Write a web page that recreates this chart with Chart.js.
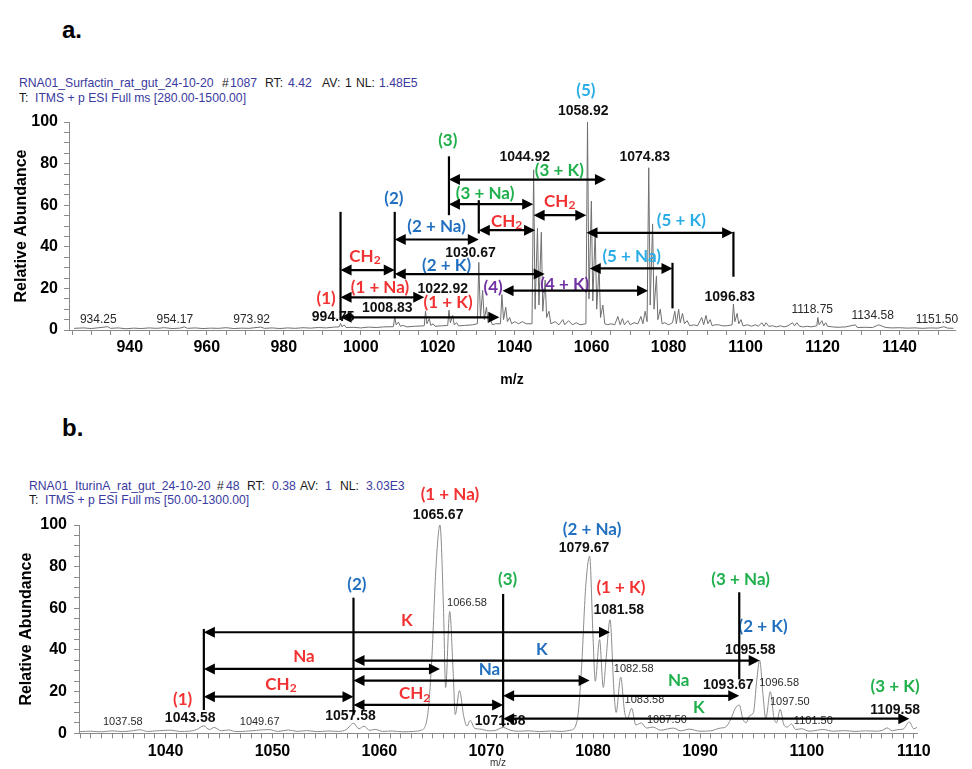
<!DOCTYPE html>
<html>
<head>
<meta charset="utf-8">
<script src="https://cdn.jsdelivr.net/npm/chart.js@4.4.1/dist/chart.umd.min.js"></script>
<style>
body{margin:0;background:#fff;width:972px;height:769px;position:relative;overflow:hidden;font-family:'Liberation Sans',Arial,sans-serif}
canvas{position:absolute;left:0}
.panel{position:absolute;font:bold 24px 'Liberation Sans',Arial,sans-serif;line-height:28px}
.hdr{position:absolute;font-size:12.2px;line-height:14px;white-space:pre;color:#1a1a1a}
.hdr.v{color:#3a3aa0}
</style>
</head>
<body>
<div class="panel" style="left:62px;top:16px">a.</div>
<div class="panel" style="left:62px;top:414px">b.</div>
<div id="headers"></div>
<canvas id="chartA" width="972" height="392" style="top:0"></canvas>
<canvas id="chartB" width="972" height="377" style="top:392px"></canvas>
<script>
// ---- scan headers: [text, left, center y, value?] ----
const headerPieces = [
  ['RNA01_Surfactin_rat_gut_24-10-20', 19, 83, true], ['#', 222, 83, false], ['1087', 230, 83, true],
  ['RT:', 265, 83, false], ['4.42', 288, 83, true], ['AV:', 322, 83, false], ['1', 345, 83, false],
  ['NL:', 356, 83, false], ['1.48E5', 379, 83, true],
  ['T:', 19, 98, false], ['ITMS + p ESI Full ms [280.00-1500.00]', 35, 98, true],
  ['RNA01_IturinA_rat_gut_24-10-20', 29, 485.5, true], ['#', 217, 485.5, false], ['48', 226, 485.5, true],
  ['RT:', 247, 485.5, false], ['0.38', 272, 485.5, true], ['AV:', 300, 485.5, false], ['1', 325, 485.5, true],
  ['NL:', 340, 485.5, false], ['3.03E3', 366, 485.5, true],
  ['T:', 29, 500, false], ['ITMS + p ESI Full ms [50.00-1300.00]', 45, 500, true]
];

// ---- panel a : surfactin spectrum (m/z, relative abundance) ----
const topMz = [925.5, 928, 930, 932, 934.25, 935, 937, 939, 941, 943, 945, 947, 949, 951, 953, 954.17, 955, 957, 959, 961, 963, 965, 967, 969, 971, 973.92, 975, 977, 979, 981, 983, 985, 987, 989, 991, 993, 994.4, 994.75, 995.1, 995.75, 996.2, 998, 1000, 1002, 1004, 1006, 1008.5, 1008.83, 1009.2, 1009.8, 1010.3, 1011, 1012, 1014, 1016.5, 1016.83, 1017.2, 1017.8, 1018.2, 1018.8, 1019.3, 1021, 1022.6, 1022.92, 1023.3, 1023.9, 1024.3, 1024.9, 1025.4, 1027, 1029, 1030.3, 1030.67, 1031.1, 1031.67, 1032.1, 1032.67, 1033.1, 1033.7, 1034.2, 1035, 1036.3, 1036.67, 1037.1, 1037.67, 1038.1, 1038.7, 1039.2, 1040, 1041, 1042, 1043, 1044.5, 1044.92, 1045.3, 1045.92, 1046.3, 1046.92, 1047.3, 1047.92, 1048.3, 1048.9, 1049.4, 1050.5, 1051.5, 1052.5, 1053, 1054, 1055, 1056, 1057, 1058.5, 1058.92, 1059.3, 1059.92, 1060.3, 1060.92, 1061.3, 1061.92, 1062.3, 1062.9, 1063.4, 1064.2, 1065, 1066, 1066.8, 1067.4, 1068, 1068.5, 1069.4, 1070, 1071, 1072, 1072.8, 1073.3, 1073.9, 1074.4, 1074.83, 1075.2, 1075.83, 1076.2, 1076.83, 1077.2, 1077.83, 1078.3, 1079, 1080, 1081, 1081.6, 1082, 1082.6, 1083, 1083.6, 1084.1, 1084.8, 1085.5, 1086.5, 1087.5, 1088.6, 1089.1, 1089.7, 1090.2, 1090.8, 1091.3, 1092, 1093, 1094, 1095, 1096.5, 1096.83, 1097.2, 1097.8, 1098.2, 1098.8, 1099.3, 1100.5, 1101.5, 1102.5, 1103.3, 1104.2, 1104.8, 1105.3, 1106, 1107, 1108, 1109, 1110, 1111, 1112.2, 1112.7, 1113.3, 1114, 1115, 1116, 1117, 1118.5, 1118.75, 1119.1, 1119.8, 1120.3, 1120.8, 1121.3, 1122.5, 1124, 1126, 1128.5, 1129, 1131, 1133, 1134.58, 1135.5, 1136.5, 1138, 1140, 1142, 1144, 1146, 1148, 1150, 1151.5, 1152.5, 1154];
const topAb = [0.8, 1.0, 0.7, 1.1, 1.6, 0.8, 1.0, 0.6, 0.9, 0.7, 1.0, 0.8, 1.1, 0.7, 0.9, 1.5, 0.8, 1.0, 0.7, 0.9, 0.8, 1.1, 0.7, 0.9, 0.8, 1.4, 0.8, 1.0, 0.7, 1.0, 0.8, 1.1, 0.9, 1.2, 1.0, 1.4, 1.5, 3.2, 1.6, 2.4, 1.2, 1.3, 1.0, 1.4, 1.2, 1.5, 1.6, 6.5, 2.5, 3.8, 1.8, 2.2, 1.5, 1.8, 2.0, 9.0, 3.0, 5.5, 2.2, 3.0, 1.8, 2.0, 2.2, 9.5, 3.5, 7.0, 2.5, 3.5, 2.0, 2.2, 2.5, 3.0, 32.5, 6.0, 19.0, 5.0, 11.0, 3.5, 5.0, 2.5, 3.0, 3.0, 17.0, 5.0, 11.0, 4.0, 6.0, 3.0, 4.0, 3.0, 4.0, 3.0, 3.0, 77.0, 10.0, 49.0, 12.0, 47.0, 9.0, 24.0, 6.0, 9.0, 3.0, 4.0, 2.5, 5.0, 2.5, 4.5, 2.5, 3.5, 2.5, 3.0, 100, 15.0, 62.0, 14.0, 48.0, 10.0, 30.0, 6.0, 12.0, 3.0, 2.5, 3.0, 2.5, 6.5, 2.5, 5.5, 2.5, 4.5, 2.5, 3.5, 3.0, 6.5, 3.0, 9.0, 4.0, 78.0, 12.0, 51.0, 10.0, 26.0, 5.0, 10.0, 3.0, 3.5, 2.5, 3.5, 9.0, 3.0, 10.0, 3.5, 8.0, 3.0, 4.5, 2.0, 2.5, 2.0, 6.0, 2.5, 7.0, 3.0, 5.0, 2.0, 2.5, 2.5, 2.0, 2.0, 2.5, 12.5, 4.0, 8.0, 3.0, 5.0, 2.0, 2.5, 1.8, 2.5, 1.8, 3.5, 1.8, 3.5, 1.8, 2.0, 1.5, 2.0, 1.5, 2.0, 3.5, 2.0, 3.5, 1.8, 1.5, 1.8, 1.5, 2.0, 6.0, 2.5, 4.5, 2.0, 3.5, 1.8, 1.5, 1.3, 1.5, 2.5, 1.2, 1.3, 1.2, 2.5, 1.8, 1.2, 1.0, 1.1, 0.9, 1.0, 0.8, 1.0, 0.9, 1.6, 0.9, 0.8];
const topXLabels = [940, 960, 980, 1000, 1020, 1040, 1060, 1080, 1100, 1120, 1140];

// vertical marker lines: [m/z, top, bottom]
const topVLines = [[994.75, 56.8, 4.8], [1008.83, 56.8, 24.8], [1022.92, 83.5, 55.2], [1030.67, 62.4, 46.4], [1081.0, 32.3, 10.4], [1096.83, 47.2, 25.6]];
// double arrows: [from m/z, to m/z, level]
const topArrows = [[994.75, 1008.83, 28.8], [994.75, 1016.5, 15.7], [994.75, 1036.0, 6.1], [1008.83, 1030.67, 43.5], [1008.83, 1047.8, 26.9], [1022.92, 1044.8, 60.5], [1022.92, 1063.7, 72.3], [1030.67, 1045.3, 48], [1044.92, 1058.6, 55.2], [1036.85, 1074.65, 18.9], [1059.5, 1081.0, 29.6], [1058.65, 1096.75, 46.7]];
// labels: [text, m/z, abundance, kind]
const topLabels = [
  ['(1)', 991.0, 15.2, 'red'], ['(2)', 1008.6, 63.2, 'blue'], ['(3)', 1022.6, 91.2, 'green'],
  ['(4)', 1034.4, 20.5, 'purple'], ['(5)', 1058.5, 115.2, 'lblue'],
  ['CH₂', 1001.1, 35.2, 'red'], ['(1 + Na)', 1005.0, 20.5, 'red'], ['(1 + K)', 1022.7, 13.1, 'red'],
  ['(2 + Na)', 1019.7, 49.6, 'blue'], ['(2 + K)', 1022.3, 31.2, 'blue'],
  ['(3 + Na)', 1032.3, 65.6, 'green'], ['(3 + K)', 1051.6, 76.5, 'green'],
  ['CH₂', 1037.9, 52, 'red'], ['CH₂', 1051.7, 61.6, 'red'], ['(4 + K)', 1053.0, 22.1, 'purple'],
  ['(5 + Na)', 1070.4, 35.5, 'lblue'], ['(5 + K)', 1083.3, 52.8, 'lblue'],
  ['994.75', 992.85, 6.4, 'num'], ['1008.83', 1006.9, 10.4, 'num'], ['1022.92', 1021.3, 19.5, 'num'],
  ['1030.67', 1028.5, 36.8, 'num'], ['1044.92', 1042.6, 83.2, 'num'], ['1058.92', 1057.8, 105.3, 'num'],
  ['1074.83', 1073.8, 82.9, 'num'], ['1096.83', 1095.9, 16, 'num'],
  ['934.25', 931.8, 5.1, 'small'], ['954.17', 951.7, 4.8, 'small'], ['973.92', 971.65, 4.8, 'small'],
  ['1118.75', 1117.3, 9.6, 'small'], ['1134.58', 1133.0, 6.9, 'small'], ['1151.50', 1149.7, 5.1, 'small']
];

// ---- panel b : iturin A spectrum ----
const botMz = [1032.0, 1033, 1034, 1035, 1036, 1037, 1037.58, 1038.3, 1039.2, 1040.5, 1041.3, 1042.2, 1042.9, 1043.58, 1044.1, 1044.55, 1045.2, 1045.9, 1046.6, 1047.5, 1048.5, 1049.67, 1050.5, 1051.5, 1052.3, 1053.2, 1054.2, 1055.2, 1056.2, 1056.9, 1057.58, 1058.1, 1058.55, 1059.1, 1059.6, 1060.3, 1061.2, 1062.2, 1063.2, 1063.9, 1064.5, 1064.9, 1065.3, 1065.67, 1066.0, 1066.2, 1066.58, 1066.9, 1067.1, 1067.5, 1067.9, 1068.2, 1068.5, 1068.9, 1069.5, 1070.2, 1070.8, 1071.58, 1072.3, 1073, 1074, 1075, 1076, 1077, 1077.9, 1078.5, 1078.9, 1079.3, 1079.67, 1080.0, 1080.2, 1080.6, 1080.95, 1081.2, 1081.58, 1081.95, 1082.15, 1082.58, 1082.95, 1083.2, 1083.6, 1084.0, 1084.5, 1085, 1085.6, 1086.3, 1087.5, 1088.2, 1089, 1090, 1091, 1091.9, 1092.4, 1092.9, 1093.3, 1093.67, 1094.0, 1094.3, 1094.65, 1095.0, 1095.3, 1095.58, 1095.9, 1096.15, 1096.58, 1096.9, 1097.15, 1097.5, 1097.85, 1098.15, 1098.55, 1098.95, 1099.5, 1100.2, 1101.5, 1102.5, 1103.5, 1104.5, 1105.5, 1106.5, 1107.1, 1107.5, 1108, 1108.5, 1109.0, 1109.58, 1110.0, 1110.3];
const botAb = [0.8, 1.0, 0.7, 1.2, 0.8, 1.3, 1.7, 0.9, 1.2, 1.5, 0.9, 1.0, 1.8, 3.6, 1.8, 2.8, 1.2, 1.6, 0.8, 1.0, 1.4, 1.8, 0.9, 1.6, 0.9, 1.3, 0.8, 1.1, 0.9, 1.8, 4.8, 2.2, 3.4, 1.4, 1.9, 0.9, 1.1, 0.7, 0.9, 1.5, 8, 35, 80, 100, 60, 22, 58.5, 30, 9, 20.5, 8, 3.5, 6.2, 2.5, 2.0, 1.2, 1.3, 2.8, 1.4, 1.0, 1.2, 0.8, 1.1, 0.9, 1.5, 6, 30, 70, 85, 45, 25, 45, 22, 35, 54.5, 20, 10, 27, 10, 7, 12, 4, 5, 2.5, 3, 1.5, 2.5, 1.2, 2.0, 1.0, 1.2, 2.5, 3, 7, 12, 13.6, 7, 5, 8.5, 10, 25, 35, 18, 7, 20, 8, 5, 11.5, 4, 3, 4.5, 1.8, 2.2, 1.0, 1.8, 1.0, 1.3, 0.9, 1.2, 1.0, 1.5, 2.6, 1.2, 1.8, 2.0, 5.4, 2.2, 2.8];
const botXLabels = [1040, 1050, 1060, 1070, 1080, 1090, 1100, 1110];

const botVLines = [[1043.58, 50.1, 11.2], [1057.58, 65.1, 8.8], [1071.58, 66.9, 3.2], [1093.67, 67.7, 25.9]];
const botArrows = [[1043.58, 1081.58, 48.5], [1043.58, 1065.67, 30.9], [1043.58, 1057.58, 17.6], [1057.58, 1095.58, 34.9], [1057.58, 1079.67, 25.3], [1057.58, 1071.58, 13.6], [1071.58, 1093.67, 18.0], [1071.58, 1109.58, 7.0]];
const botLabels = [
  ['K', 1062.56, 54.1, 'red'], ['Na', 1052.95, 36.8, 'red'], ['CH₂', 1050.8, 23.5, 'red'],
  ['K', 1075.2, 40, 'blue'], ['Na', 1070.3, 30.7, 'blue'], ['CH₂', 1063.3, 18.9, 'red'],
  ['Na', 1088.0, 25.3, 'green'], ['K', 1089.9, 12.5, 'green'],
  ['(1)', 1041.6, 16.3, 'red'], ['(2)', 1057.9, 71.5, 'blue'], ['(3)', 1072.0, 73.6, 'green'],
  ['(1 + Na)', 1066.6, 114.7, 'red'], ['(2 + Na)', 1079.9, 97.9, 'blue'], ['(1 + K)', 1082.6, 70.1, 'red'],
  ['(3 + Na)', 1093.8, 73.6, 'green'], ['(2 + K)', 1095.9, 51.2, 'blue'], ['(3 + K)', 1108.25, 22.4, 'green'],
  ['1043.58', 1042.3, 7.2, 'num'], ['1057.58', 1057.3, 8.0, 'num'], ['1065.67', 1065.5, 104.8, 'num'],
  ['1071.58', 1071.3, 6.0, 'num'], ['1079.67', 1079.15, 88.8, 'num'], ['1081.58', 1082.4, 58.9, 'num'],
  ['1095.58', 1094.7, 40, 'num'], ['1093.67', 1092.65, 23.2, 'num'], ['1109.58', 1108.25, 11.2, 'num'],
  ['1037.58', 1036.0, 5.6, 'small'], ['1049.67', 1048.8, 5.4, 'small'], ['1066.58', 1068.2, 62.7, 'small'],
  ['1082.58', 1083.8, 30.9, 'small'], ['1083.58', 1084.8, 16.0, 'small'], ['1087.50', 1086.9, 6.4, 'small'],
  ['1096.58', 1097.4, 24.0, 'small'], ['1097.50', 1098.4, 14.9, 'small'], ['1101.50', 1100.6, 6.0, 'small']
];

const yLabels = [0, 20, 40, 60, 80, 100];

const colors = {red: '#f23232', blue: '#2170c0', green: '#1fb04c', purple: '#7232a2', lblue: '#2aade6'};
const AXIS = '#8a8a8a';
const SANS = "'Liberation Sans', Arial, sans-serif";

// header text pieces
const hdrBox = document.getElementById('headers');
headerPieces.forEach(([text, x, y, isValue]) => {
    const el = document.createElement('div');
    el.className = isValue ? 'hdr v' : 'hdr';
    el.textContent = text;
    el.style.left = x + 'px';
    el.style.top = (y - 7) + 'px';
    hdrBox.appendChild(el);
});

function stepTicks(from, to, step) {
    const t = [];
    for (let v = from; v <= to + 1e-9; v += step) t.push({value: Math.round(v * 100) / 100});
    return t;
}

function drawLabel(ctx, text, x, y, kind, size) {
    if (kind === 'num') {
        ctx.font = 'bold 14px ' + SANS; ctx.fillStyle = '#111';
    } else if (kind === 'small') {
        ctx.font = size.small + 'px ' + SANS; ctx.fillStyle = '#2a2a2a';
    } else {
        ctx.font = 'bold ' + size.col + 'px Lato'; ctx.fillStyle = colors[kind];
    }
    if (text.indexOf('₂') >= 0) {
        // draw subscript by hand
        const base = text.replace('₂', '');
        const w1 = ctx.measureText(base).width;
        const mainFont = ctx.font;
        ctx.font = 'bold ' + Math.round(size.col * 0.68) + 'px Lato';
        const w2 = ctx.measureText('2').width;
        const x0 = x - (w1 + w2) / 2;
        ctx.textAlign = 'left';
        ctx.fillText('2', x0 + w1, y + size.col * 0.22);
        ctx.font = mainFont;
        ctx.fillText(base, x0, y);
        return;
    }
    ctx.textAlign = 'center';
    ctx.fillText(text, x, y);
}

function drawHead(ctx, x, y, dir) {
    ctx.beginPath();
    ctx.moveTo(x, y);
    ctx.lineTo(x - dir * 11, y - 5.5);
    ctx.lineTo(x - dir * 11, y + 5.5);
    ctx.closePath();
    ctx.fill();
}

function annotations(vlines, arrows, labels, size) {
    return {
        id: 'annotations',
        afterDatasetsDraw(chart) {
            const ctx = chart.ctx, xs = chart.scales.x, ys = chart.scales.y;
            ctx.save();
            ctx.textBaseline = 'middle';
            labels.forEach(([text, mz, ab, kind]) => {
                drawLabel(ctx, text, xs.getPixelForValue(mz), ys.getPixelForValue(ab), kind, size);
            });
            ctx.strokeStyle = '#000';
            ctx.fillStyle = '#000';
            ctx.lineWidth = 2.2;
            vlines.forEach(([mz, a, b]) => {
                const x = xs.getPixelForValue(mz);
                ctx.beginPath();
                ctx.moveTo(x, ys.getPixelForValue(a));
                ctx.lineTo(x, ys.getPixelForValue(b));
                ctx.stroke();
            });
            arrows.forEach(([a, b, lvl]) => {
                const x1 = xs.getPixelForValue(a), x2 = xs.getPixelForValue(b), y = ys.getPixelForValue(lvl);
                ctx.beginPath();
                ctx.moveTo(x1 + 8, y);
                ctx.lineTo(x2 - 8, y);
                ctx.stroke();
                drawHead(ctx, x1, y, -1);
                drawHead(ctx, x2, y, 1);
            });
            ctx.restore();
        }
    };
}

function makeChart(id, cfg) {
    return new Chart(document.getElementById(id), {
        type: 'line',
        data: {
            datasets: [{
                data: cfg.mz.map((m, i) => ({x: m, y: cfg.ab[i]})),
                borderColor: cfg.lineColor,
                borderWidth: 1,
                pointRadius: 0,
                tension: 0,
                cubicInterpolationMode: cfg.smooth ? 'monotone' : 'default'
            }]
        },
        options: {
            responsive: false,
            animation: false,
            devicePixelRatio: 1,
            layout: {padding: cfg.padding},
            plugins: {legend: {display: false}, tooltip: {enabled: false}},
            scales: {
                x: {
                    type: 'linear',
                    min: cfg.xMin,
                    max: cfg.xMax,
                    afterBuildTicks: s => { s.ticks = stepTicks(cfg.xFirst, cfg.xLast, cfg.xStep); },
                    afterFit: s => { s.height = cfg.xHeight; },
                    ticks: {
                        autoSkip: false, maxRotation: 0, padding: cfg.xPad, color: '#000',
                        font: {family: SANS, size: 16, weight: 'bold'},
                        callback: v => cfg.xLabels.includes(v) ? String(v) : ''
                    },
                    grid: {drawOnChartArea: false, drawTicks: true, tickLength: 5, color: AXIS},
                    border: {color: AXIS, width: 1},
                    title: {display: true, text: 'm/z', color: cfg.mzTitle.color,
                        font: {family: SANS, size: cfg.mzTitle.size, weight: cfg.mzTitle.weight},
                        padding: {top: 0, bottom: cfg.mzTitle.pad}}
                },
                y: {
                    min: 0,
                    max: 100,
                    afterBuildTicks: s => { s.ticks = stepTicks(0, 100, 5); },
                    afterFit: s => { s.width = cfg.yWidth; },
                    ticks: {
                        autoSkip: false, padding: cfg.yPad, color: '#000',
                        font: {family: SANS, size: 16, weight: 'bold'},
                        callback: v => yLabels.includes(v) ? String(v) : ''
                    },
                    grid: {drawOnChartArea: false, drawTicks: true, tickLength: 5, color: AXIS},
                    border: {color: AXIS, width: 1},
                    title: {display: true, text: 'Relative Abundance', color: '#000',
                        font: {family: SANS, size: 16, weight: 'bold'}, padding: {top: 4, bottom: 4}}
                }
            }
        },
        plugins: [annotations(cfg.vlines, cfg.arrows, cfg.labels, cfg.size)]
    });
}

makeChart('chartA', {
    mz: topMz, ab: topAb, lineColor: '#6f6f6f', smooth: false,
    padding: {left: 8, top: 122, right: 17, bottom: 0},
    xMin: 924.2, xMax: 1154.4, xFirst: 925, xLast: 1150, xStep: 5, xLabels: topXLabels,
    xHeight: 62, xPad: 3, yWidth: 61, yPad: 6,
    mzTitle: {size: 14, weight: 'bold', color: '#000', pad: 3},
    vlines: topVLines, arrows: topArrows, labels: topLabels, size: {col: 17, small: 12}
});

makeChart('chartB', {
    mz: botMz, ab: botAb, lineColor: '#8c8c8c', smooth: true,
    padding: {left: 13, top: 133, right: 55, bottom: 0},
    xMin: 1031.9, xMax: 1110.3, xFirst: 1032, xLast: 1110, xStep: 1, xLabels: botXLabels,
    xHeight: 35.7, xPad: 4, yWidth: 66, yPad: 7,
    mzTitle: {size: 10, weight: 'normal', color: '#333', pad: 0},
    vlines: botVLines, arrows: botArrows, labels: botLabels, size: {col: 17, small: 11}
});
</script>
</body>
</html>
